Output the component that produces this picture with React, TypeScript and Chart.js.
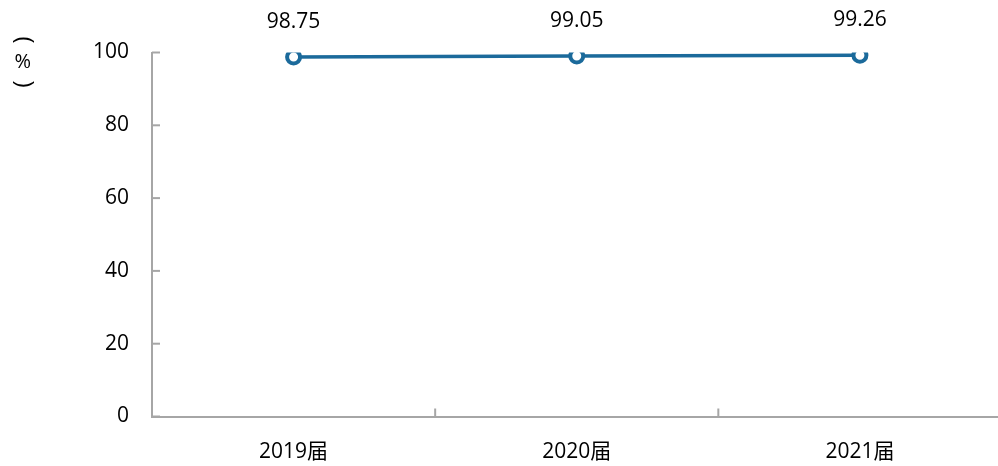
import React, { useEffect, useRef } from "react";
import { Chart, registerables } from "chart.js";

Chart.register(...registerables);

const categories = ["2019届", "2020届", "2021届"];
const rates = [98.75, 99.05, 99.26];
const yTicks = [0, 20, 40, 60, 80, 100];

const FONT = "'Open Sans', 'Noto Sans CJK SC', sans-serif";
const LINE_COLOR = "#1b6a9b";
const AXIS_COLOR = "#a6a6a6";

function drawRotated(ctx: any, text: string, cx: number, cy: number, angle: number) {
  ctx.save();
  ctx.textAlign = "left";
  ctx.textBaseline = "alphabetic";
  const m = ctx.measureText(text);
  const gx = (m.actualBoundingBoxRight - m.actualBoundingBoxLeft) / 2;
  const gy = (m.actualBoundingBoxDescent - m.actualBoundingBoxAscent) / 2;
  ctx.translate(cx, cy);
  ctx.rotate(angle);
  ctx.fillText(text, -gx, -gy);
  ctx.restore();
}

function drawTitle(ctx: any, ox: number, oy: number) {
  ctx.font = `24px 'Open Sans', sans-serif`;
  drawRotated(ctx, "(", ox, oy - 21, Math.PI / 2);
  drawRotated(ctx, ")", ox, oy + 23, Math.PI / 2);
  ctx.font = `20px 'Open Sans', sans-serif`;
  drawRotated(ctx, "%", ox, oy, 0);
}

const decorPlugin = {
  id: "decor",
  afterDraw(chart: any) {
    const ctx = chart.ctx;
    const x = chart.scales.x;
    const y = chart.scales.y;
    ctx.save();
    ctx.strokeStyle = AXIS_COLOR;
    ctx.lineWidth = 2;
    yTicks.forEach((v) => {
      const py = y.getPixelForValue(v);
      ctx.beginPath();
      ctx.moveTo(x.left, py);
      ctx.lineTo(x.left + 8, py);
      ctx.stroke();
    });
    const step = x.getPixelForValue(1) - x.getPixelForValue(0);
    for (let i = 0; i <= categories.length; i++) {
      const px = x.getPixelForValue(0) - step / 2 + i * step;
      ctx.beginPath();
      ctx.moveTo(px, y.bottom);
      ctx.lineTo(px, y.bottom - 8);
      ctx.stroke();
    }
    ctx.fillStyle = "#000";
    ctx.font = `21px ${FONT}`;
    ctx.textAlign = "center";
    ctx.textBaseline = "middle";
    rates.forEach((v, i) => {
      ctx.fillText(v.toFixed(2), x.getPixelForValue(i), y.getPixelForValue(v) - 35);
    });
    drawTitle(ctx, 23, 61);
    ctx.restore();
  },
};

export default function App() {
  const ref = useRef<HTMLCanvasElement | null>(null);
  useEffect(() => {
    document.body.style.margin = "0";
    document.body.style.overflow = "hidden";
    const chart = new Chart(ref.current as HTMLCanvasElement, {
      type: "line",
      data: {
        labels: categories,
        datasets: [
          {
            data: rates,
            borderColor: LINE_COLOR,
            borderWidth: 3.5,
            pointRadius: 6.5,
            pointBorderWidth: 4,
            pointBackgroundColor: "#ffffff",
            pointBorderColor: LINE_COLOR,
            tension: 0,
          },
        ],
      },
      options: {
        animation: false,
        responsive: false,
        maintainAspectRatio: false,
        layout: { padding: { top: 52.5, right: 8, left: 0, bottom: 0 } },
        plugins: { legend: { display: false }, tooltip: { enabled: false } },
        scales: {
          x: {
            offset: true,
            grid: { display: false },
            border: { display: true, color: AXIS_COLOR, width: 2 },
            ticks: { color: "#000", font: { family: FONT, size: 21 }, padding: 15, maxRotation: 0 },
            afterFit: (s: any) => {
              s.height = 49.5;
            },
          },
          y: {
            min: 0,
            max: 100,
            grid: { display: false },
            border: { display: true, color: AXIS_COLOR, width: 2 },
            ticks: { stepSize: 20, color: "#000", font: { family: FONT, size: 21 }, padding: 15 },
            afterFit: (s: any) => {
              s.width = 152;
            },
          },
        },
      },
      plugins: [decorPlugin],
    });
    return () => chart.destroy();
  }, []);
  return (
    <div style={{ position: "fixed", left: 0, top: 0, width: 1012, height: 466 }}>
      <canvas ref={ref} width={1012} height={466} style={{ width: 1012, height: 466, display: "block" }} />
    </div>
  );
}
